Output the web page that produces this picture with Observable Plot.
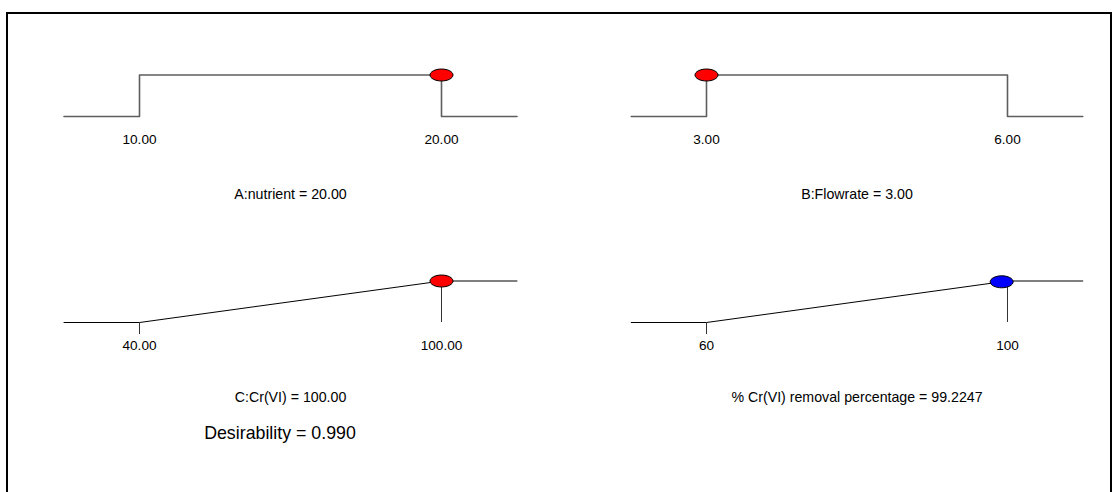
<!DOCTYPE html>
<html>
<head>
<meta charset="utf-8">
<script src="https://cdn.jsdelivr.net/npm/d3@7"></script>
<script src="https://cdn.jsdelivr.net/npm/@observablehq/plot@0.6"></script>
<style>
  html, body { margin: 0; padding: 0; background: #fff; overflow: hidden; }
  #stage { position: relative; width: 1112px; height: 492px; overflow: hidden; font-family: "Liberation Sans", Arial, sans-serif; }
  #frame { position: absolute; left: 6px; top: 12px; width: 1102px; height: 600px; border: 2px solid #000; }
  .panel { position: absolute; }
  #desir { position: absolute; left: 130px; width: 300px; top: 422px; line-height: 22px; text-align: center; font-size: 17.8px; color: #000; }
</style>
</head>
<body>
<div id="stage"><div id="frame"></div></div>
<script>
// ---- data ----
const factorNames = ["A:nutrient", "B:Flowrate", "C:Cr(VI)", "% Cr(VI) removal percentage"];
const lows = [10, 3, 40, 60];
const highs = [20, 6, 100, 100];
const settings = [20.00, 3.00, 100.00, 99.2247];
const settingLabels = ["20.00", "3.00", "100.00", "99.2247"];
const lowLabels = ["10.00", "3.00", "40.00", "60"];
const highLabels = ["20.00", "6.00", "100.00", "100"];
const goals = ["range", "range", "maximize", "maximize"];
const kinds = ["factor", "factor", "factor", "response"];
const desirability = 0.990;

// ---- layout ----
const stage = document.getElementById("stage");
const layout = [
  {left: 0,   top: 0,   xr: [139, 441], titleDy: 78},
  {left: 556, top: 0,   xr: [150, 451], titleDy: 78},
  {left: 0,   top: 206, xr: [139, 441], titleDy: 75},
  {left: 556, top: 206, xr: [150, 451], titleDy: 75}
];

const ellipse = {
  draw(ctx, size) {
    const r = Math.sqrt(size / Math.PI);
    const rx = r, ry = r * 0.52, k = 0.5523;
    ctx.moveTo(rx, 0);
    ctx.bezierCurveTo(rx, ry * k, rx * k, ry, 0, ry);
    ctx.bezierCurveTo(-rx * k, ry, -rx, ry * k, -rx, 0);
    ctx.bezierCurveTo(-rx, -ry * k, -rx * k, -ry, 0, -ry);
    ctx.bezierCurveTo(rx * k, -ry, rx, -ry * k, rx, 0);
    ctx.closePath();
  }
};

factorNames.forEach((name, i) => {
  const lo = lows[i], hi = highs[i], ext = (hi - lo) * 0.25;
  const L = layout[i];
  let curve, d;
  const marks = [];
  if (goals[i] === "range") {
    curve = [[lo - ext, 0], [lo, 0], [lo, 1], [hi, 1], [hi, 0], [hi + ext, 0]];
    d = (settings[i] >= lo && settings[i] <= hi) ? 1 : 0;
    marks.push(Plot.line(curve, {x: p => p[0], y: p => p[1], stroke: "#5e5e5e", strokeWidth: 1.6}));
  } else {
    curve = [[lo - ext, 0], [lo, 0], [hi, 1], [hi + ext, 1]];
    d = Math.max(0, Math.min(1, (settings[i] - lo) / (hi - lo)));
    marks.push(Plot.line(curve, {x: p => p[0], y: p => p[1], stroke: "#000", strokeWidth: 1}));
    marks.push(Plot.ruleX([hi], {y1: 0, y2: 1, stroke: "#333", strokeWidth: 1}));
    marks.push(Plot.ruleX([lo], {y1: 0, y2: 0, insetBottom: -12, stroke: "#333", strokeWidth: 1}));
  }
  marks.push(Plot.text([lo, hi], {x: v => v, y: 0, dy: 23, text: (v, j) => j === 0 ? lowLabels[i] : highLabels[i], fontSize: 13.6, fill: "#000"}));
  marks.push(Plot.text([(lo + hi) / 2], {x: v => v, y: 0, dy: L.titleDy, text: () => `${name} = ${settingLabels[i]}`, fontSize: 14.2, fill: "#000"}));
  marks.push(Plot.dot([[settings[i], d]], {
    x: p => p[0], y: p => p[1], r: 11.5, symbol: ellipse,
    fill: kinds[i] === "response" ? "#0000ff" : "#ff0000", stroke: "#000", strokeWidth: 1
  }));

  const svg = Plot.plot({
    width: 556, height: 240, margin: 0,
    x: {domain: [lo, hi], range: L.xr, axis: null},
    y: {domain: [0, 1], range: [116, 74.5], axis: null},
    style: {background: "transparent", overflow: "visible", fontFamily: "'Liberation Sans', Arial, sans-serif"},
    marks
  });
  const wrap = document.createElement("div");
  wrap.className = "panel";
  wrap.style.left = L.left + "px";
  wrap.style.top = L.top + "px";
  wrap.appendChild(svg);
  stage.appendChild(wrap);
});

const dv = document.createElement("div");
dv.id = "desir";
dv.textContent = `Desirability = ${desirability.toFixed(3)}`;
stage.appendChild(dv);
</script>
</body>
</html>
